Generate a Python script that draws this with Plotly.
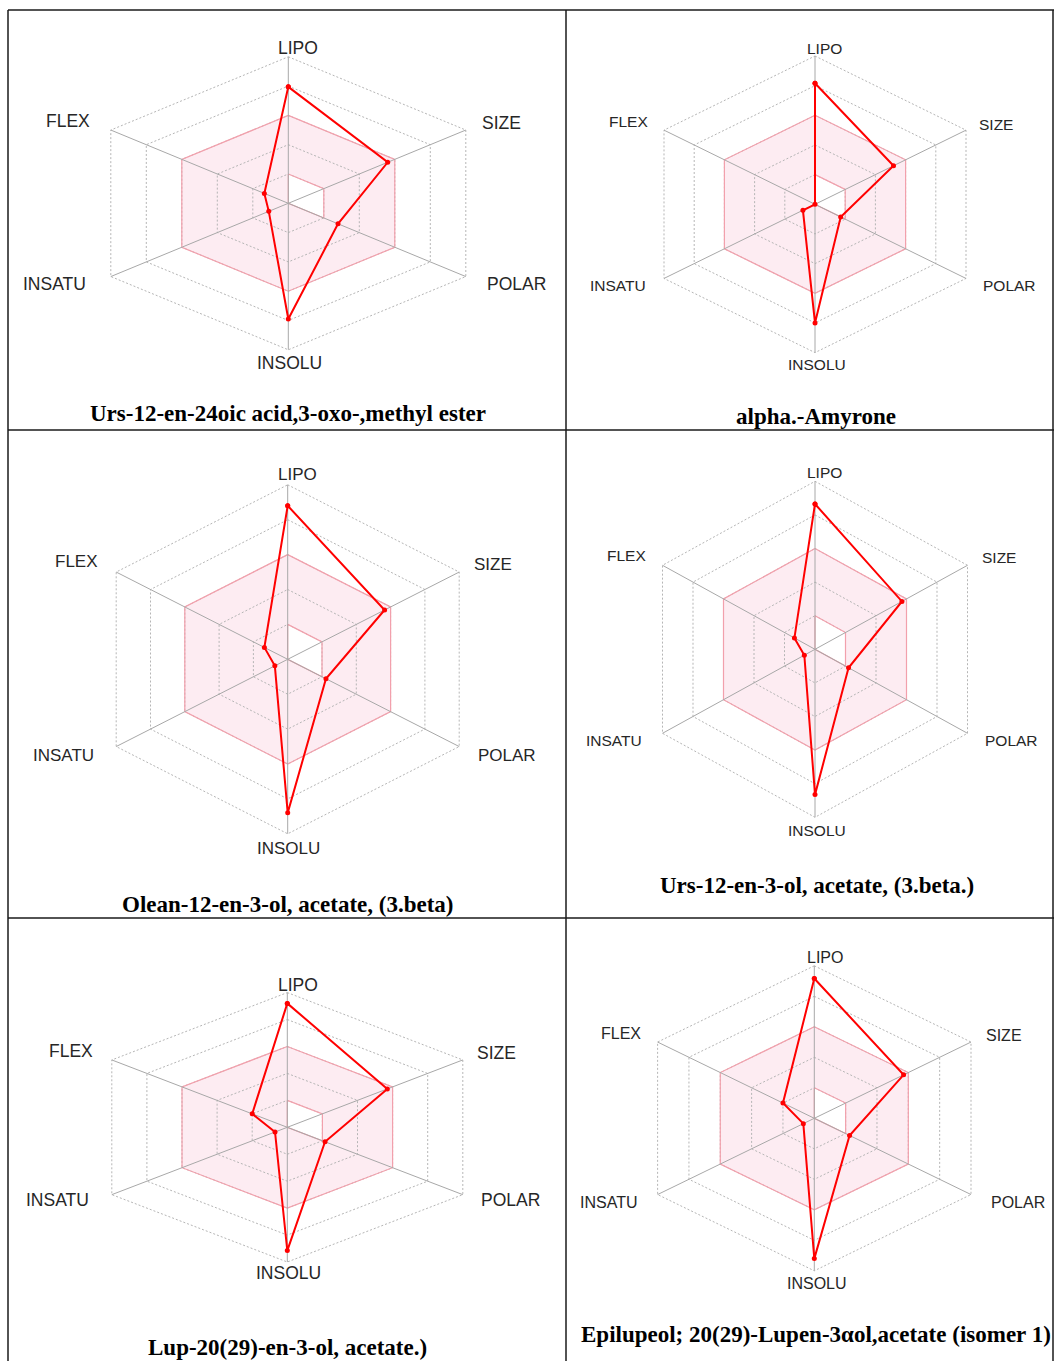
import numpy as np
import plotly.graph_objects as go

W, H = 1054, 1361

# ---- bioavailability radar data (normalised 0..1 along each axis) ----
axis_names = ["LIPO", "SIZE", "POLAR", "INSOLU", "INSATU", "FLEX"]
compounds = [
    "Urs-12-en-24oic acid,3-oxo-,methyl ester",
    "alpha.-Amyrone",
    "Olean-12-en-3-ol, acetate, (3.beta)",
    "Urs-12-en-3-ol, acetate, (3.beta.)",
    "Lup-20(29)-en-3-ol, acetate.)",
    "Epilupeol; 20(29)-Lupen-3\u03b1ol,acetate (isomer 1)",
]
lipo = [0.795, 0.816, 0.88, 0.865, 0.92, 0.917]
size = [0.56, 0.52, 0.565, 0.57, 0.57, 0.57]
polar = [0.28, 0.17, 0.223, 0.22, 0.215, 0.225]
insolu = [0.79, 0.80, 0.88, 0.865, 0.915, 0.92]
insatu = [0.11, 0.08, 0.075, 0.07, 0.07, 0.07]
flex = [0.135, 0.0, 0.136, 0.135, 0.20, 0.20]

# grid rings and the optimal (pink) property range
ring_levels = [0.2, 0.4, 0.6, 0.8, 1.0]
optimal_low = [0.2, 0.2, 0.2, 0.0, 0.0, 0.0]
optimal_high = [0.6, 0.6, 0.6, 0.6, 0.6, 0.6]

# ---- panel geometry (pixels) ----
cells = [(8, 566, 10, 430), (566, 1054, 10, 430),
         (8, 566, 430, 918), (566, 1054, 430, 918),
         (8, 566, 918, 1361), (566, 1054, 918, 1361)]
centers = [(288.3, 203.3), (815.0, 204.3), (287.7, 659.3),
           (815.0, 649.3), (287.3, 1127.3), (814.3, 1118.3)]
radius_px = [146.5, 148.3, 174.5, 168.0, 134.7, 152.5]
halfwidth_px = [177.5, 151.0, 171.5, 152.5, 175.5, 156.7]

label_pos = [
    [(298, 48), (501, 123), (516, 284), (289.5, 363), (54.7, 284), (68, 121)],
    [(824.7, 48.3), (996, 124), (1009, 285), (816.5, 365), (617.7, 285), (628.8, 121.3)],
    [(297.8, 474.3), (492.8, 564), (506.7, 755), (288.8, 848.3), (63.2, 755), (76.2, 561)],
    [(824.7, 472.7), (999, 557.7), (1011.8, 740), (816.8, 830), (614.3, 740), (626.3, 555.3)],
    [(297.8, 984.7), (496.8, 1053), (510.8, 1200.3), (288.4, 1273), (57, 1200.3), (70.8, 1050.7)],
    [(825, 957.3), (1004.3, 1035.3), (1017.5, 1202), (816.7, 1283.7), (608.5, 1202), (620.7, 1033)],
]
label_size = [17.5, 15.5, 17, 15.5, 17.5, 16]
title_pos = [(287.5, 413), (816, 416.5), (287, 905), (816.5, 885),
             (287.7, 1347), (816, 1334.5)]

angles = np.deg2rad(np.arange(6) * 60.0)


def to_xy(vals, close=True):
    v = np.asarray(vals, dtype=float)
    x, y = v * np.sin(angles), v * np.cos(angles)
    if close:
        x, y = np.append(x, x[0]), np.append(y, y[0])
    return list(x), list(y)


fig = go.Figure()
annotations = []

for i in range(6):
    sfx = "" if i == 0 else str(i + 1)
    xa, ya = "x" + sfx, "y" + sfx
    values = [lipo[i], size[i], polar[i], insolu[i], insatu[i], flex[i]]

    # pink optimal zone as a keyhole polygon (outer clockwise, hole counter-clockwise)
    ox, oy = to_xy(optimal_high)
    ix, iy = to_xy(optimal_low)
    fx = ox + ix[::-1] + [ox[0]]
    fy = oy + iy[::-1] + [oy[0]]
    fig.add_trace(go.Scatter(x=fx, y=fy, xaxis=xa, yaxis=ya, mode="lines",
                             fill="toself", fillcolor="rgb(253,236,242)",
                             line=dict(width=0), hoverinfo="skip", showlegend=False))

    # dotted hexagonal rings
    gx, gy = [], []
    for r in ring_levels:
        rx, ry = to_xy([r] * 6)
        gx += rx + [None]
        gy += ry + [None]
    fig.add_trace(go.Scatter(x=gx, y=gy, xaxis=xa, yaxis=ya, mode="lines",
                             line=dict(color="#b5b5b5", width=1, dash="2px,2px"),
                             hoverinfo="skip", showlegend=False))

    # pink zone outlines
    fig.add_trace(go.Scatter(x=ox + [None] + ix, y=oy + [None] + iy,
                             xaxis=xa, yaxis=ya, mode="lines",
                             line=dict(color="rgb(242,160,172)", width=1.2),
                             hoverinfo="skip", showlegend=False))

    # radial spokes
    ex, ey = to_xy([ring_levels[-1]] * 6, close=False)
    sx, sy = [], []
    for a in range(6):
        sx += [0, ex[a], None]
        sy += [0, ey[a], None]
    fig.add_trace(go.Scatter(x=sx, y=sy, xaxis=xa, yaxis=ya, mode="lines",
                             line=dict(color="#a8a8a8", width=1),
                             hoverinfo="skip", showlegend=False))

    # compound profile
    px_, py_ = to_xy(values)
    fig.add_trace(go.Scatter(x=px_, y=py_, xaxis=xa, yaxis=ya, mode="lines+markers",
                             line=dict(color="#ff0000", width=2),
                             marker=dict(color="#ff0000", size=5),
                             name=compounds[i], showlegend=False))

    # axes mapped so the hexagon gets its panel's width/height
    x0, x1, y0, y1 = cells[i]
    cx, cy = centers[i]
    kx = halfwidth_px[i] / np.sin(np.deg2rad(60))
    ky = radius_px[i]
    fig.update_layout({
        "xaxis" + sfx: dict(domain=[x0 / W, x1 / W],
                            range=[(x0 - cx) / kx, (x1 - cx) / kx],
                            visible=False, fixedrange=True, anchor=ya),
        "yaxis" + sfx: dict(domain=[1 - y1 / H, 1 - y0 / H],
                            range=[(cy - y1) / ky, (cy - y0) / ky],
                            visible=False, fixedrange=True, anchor=xa),
    })

    for name, (lx, ly) in zip(axis_names, label_pos[i]):
        annotations.append(dict(x=lx / W, y=1 - ly / H, xref="paper", yref="paper",
                                text=name, showarrow=False, xanchor="center",
                                yanchor="middle",
                                font=dict(family="Liberation Sans, Arial, sans-serif",
                                          size=label_size[i], color="#262626")))
    tx, ty = title_pos[i]
    annotations.append(dict(x=tx / W, y=1 - ty / H, xref="paper", yref="paper",
                            text="<b>" + compounds[i] + "</b>", showarrow=False,
                            xanchor="center", yanchor="middle",
                            font=dict(family="Liberation Serif, Times New Roman, serif",
                                      size=23, color="#000000")))

# panel frame lines
frame = [
    (8, 10, 1054, 10), (8, 430, 1054, 430), (8, 918, 1054, 918),
    (8, 10, 8, 1361), (566, 10, 566, 1361), (1053, 10, 1053, 1361),
]
shapes = [dict(type="line", xref="paper", yref="paper",
               x0=a / W, y0=1 - b / H, x1=c / W, y1=1 - d / H,
               line=dict(color="#1a1a1a", width=1.5)) for a, b, c, d in frame]

fig.update_layout(width=W, height=H, margin=dict(l=0, r=0, t=0, b=0),
                  paper_bgcolor="white", plot_bgcolor="white",
                  annotations=annotations, shapes=shapes, showlegend=False)

fig.write_html("out.html")
